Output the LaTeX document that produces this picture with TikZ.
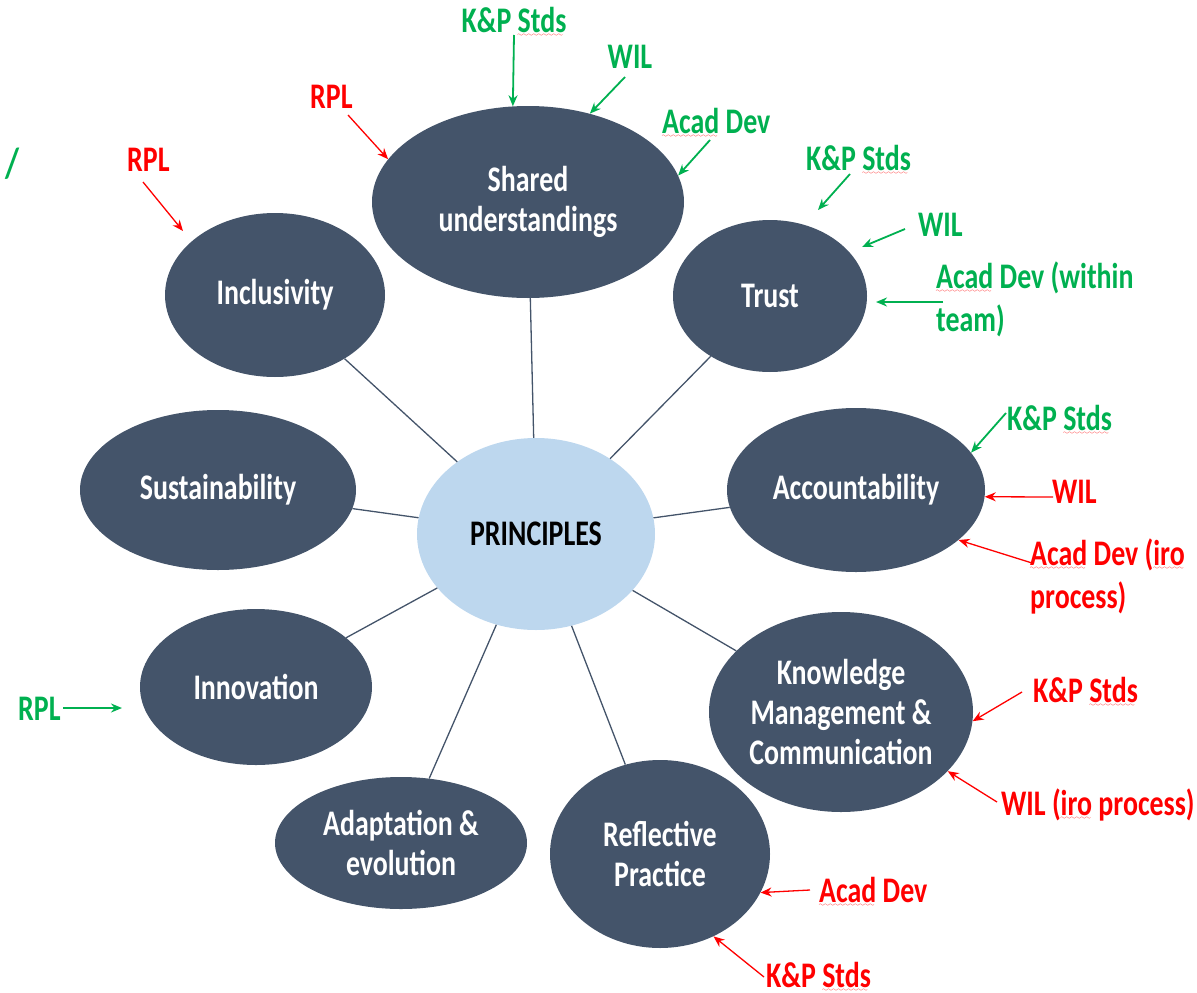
\documentclass[tikz,border=0pt]{standalone}
\usepackage{fontspec}
\setmainfont{Carlito}[FakeStretch=0.775]
\usetikzlibrary{shapes.geometric,arrows.meta}
\definecolor{slate}{HTML}{44546A}
\definecolor{pblue}{HTML}{BDD7EE}
\definecolor{tgreen}{HTML}{00B050}
\definecolor{tred}{HTML}{FF0000}
\font\wavyfont=lasy6
\newcommand\spl[1]{\setbox0\hbox{#1}\rlap{\textcolor{tred}{\lower4pt\hbox to \wd0{\leaders\hbox{\wavyfont\char58}\hfill}}}\box0\relax}
\tikzset{
  pnode/.style={ellipse, fill=slate, text=white, inner sep=0pt, align=center,
    font=\bfseries\fontsize{36}{40}\selectfont},
  cnode/.style={ellipse, fill=pblue, text=black, inner sep=0pt, align=center,
    font=\bfseries\fontsize{36}{40}\selectfont},
  spoke/.style={draw=slate, line width=1.3pt},
  glab/.style={text=tgreen, inner sep=0pt, align=left, font=\bfseries\fontsize{36}{43}\selectfont},
  rlab/.style={text=tred, inner sep=0pt, align=left, font=\bfseries\fontsize{36}{43}\selectfont},
  garr/.style={draw=tgreen, line width=1.8pt, -{Stealth[length=11pt,width=9pt]}},
  rarr/.style={draw=tred, line width=1.3pt, -{Stealth[length=11pt,width=9pt]}}
}
\begin{document}
\begin{tikzpicture}[x=1pt,y=-1pt]
\useasboundingbox (0,0) rectangle (1197,993);
% central node
\node[cnode, minimum width=238pt, minimum height=192pt] (P) at (536,534) {PRINCIPLES};
% principle ellipses
\node[pnode, minimum width=312pt, minimum height=192pt] (S) at (528,202) {Shared\\understandings};
\node[pnode, minimum width=220pt, minimum height=164pt] (I) at (275,295) {Inclusivity};
\node[pnode, minimum width=194pt, minimum height=152pt] (T) at (770,296) {Trust};
\node[pnode, minimum width=276pt, minimum height=160pt] (Su) at (218,490) {Sustainability};
\node[pnode, minimum width=258pt, minimum height=164pt] (A) at (856,490) {Accountability};
\node[pnode, minimum width=232pt, minimum height=156pt] (N) at (256,687) {Innovation};
\node[pnode, minimum width=264pt, minimum height=200pt] (K) at (841,712) {Knowledge\\Management \&\\Communication};
\node[pnode, minimum width=252pt, minimum height=132pt] (Ad) at (401,843) {Adaptation \&\\evolution};
\node[pnode, minimum width=220pt, minimum height=188pt] (R) at (660,854) {Reflective\\Practice};
% spokes
\foreach \n in {S,I,T,Su,A,N,K,Ad,R} \draw[spoke] (P) -- (\n);

% green labels
\node[glab, anchor=base] (g1) at (514,32) {K\&P \spl{Stds}};
\node[glab, anchor=base] (g2) at (630,68) {WIL};
\node[glab, anchor=base west] (g3) at (662,133) {\spl{Acad} Dev};
\node[glab, anchor=base west] (g4) at (806,170) {K\&P \spl{Stds}};
\node[glab, anchor=base west] (g5) at (918,236) {WIL};
\node[glab, anchor=base west] (g6) at (936,331) {\spl{Acad} Dev (within\\team)};
\node[glab, anchor=base west] (g7) at (1007,430) {K\&P \spl{Stds}};
\node[glab, anchor=center, font=\bfseries\fontsize{42}{44}\selectfont] (g8) at (12,164) {/};
\node[glab, anchor=base west] (g9) at (18,720) {RPL};
% red labels
\node[rlab, anchor=base west] (r1) at (310,108) {RPL};
\node[rlab, anchor=base west] (r2) at (127,171) {RPL};
\node[rlab, anchor=base west] (r3) at (1052,503) {WIL};
\node[rlab, anchor=base west] (r4) at (1030,608) {\spl{Acad} Dev (\spl{iro}\\process)};
\node[rlab, anchor=base west] (r5) at (1033,702) {K\&P \spl{Stds}};
\node[rlab, anchor=base west] (r6) at (1001,815) {WIL (\spl{iro} process)};
\node[rlab, anchor=base west] (r7) at (819,902) {\spl{Acad} Dev};
\node[rlab, anchor=base west] (r8) at (766,987) {K\&P \spl{Stds}};

% arrow tails / free heads
\coordinate (g1t) at (514,35);
\coordinate (g2t) at (625,77);
\coordinate (g3t) at (710,140);
\coordinate (g4t) at (850,174);
\coordinate (g4h) at (818,210);
\coordinate (g5t) at (905,229);
\coordinate (g5h) at (862,247);
\coordinate (g6t) at (943,302);
\coordinate (g6h) at (876,302);
\coordinate (g7t) at (1006,413);
\coordinate (g9t) at (63,708);
\coordinate (g9h) at (122,708);
\coordinate (r1t) at (348,115);
\coordinate (r2t) at (143,182);
\coordinate (r2h) at (183,231);
\coordinate (r3t) at (1053,497);
\coordinate (r4t) at (1032,563);
\coordinate (r5t) at (1022,692);
\coordinate (r6t) at (997,802);
\coordinate (r7t) at (810,890);
\coordinate (r8t) at (764,977);

% green arrows
\draw[garr] (g1t) -- (S.99);
\draw[garr] (g2t) -- (S.55);
\draw[garr] (g3t) -- (S.10);
\draw[garr] (g4t) -- (g4h);
\draw[garr] (g5t) -- (g5h);
\draw[garr] (g6t) -- (g6h);
\draw[garr] (g7t) -- (A.18);
\draw[garr] (g9t) -- (g9h);
% red arrows
\draw[rarr] (r1t) -- (S.163);
\draw[rarr] (r2t) -- (r2h);
\draw[rarr] (r3t) -- (A.-3);
\draw[rarr] (r4t) -- (A.-26);
\draw[rarr] (r5t) -- (K.-4);
\draw[rarr] (r6t) -- (K.-29);
\draw[rarr] (r7t) -- (R.-21);
\draw[rarr] (r8t) -- (R.-57);
\end{tikzpicture}
\end{document}
